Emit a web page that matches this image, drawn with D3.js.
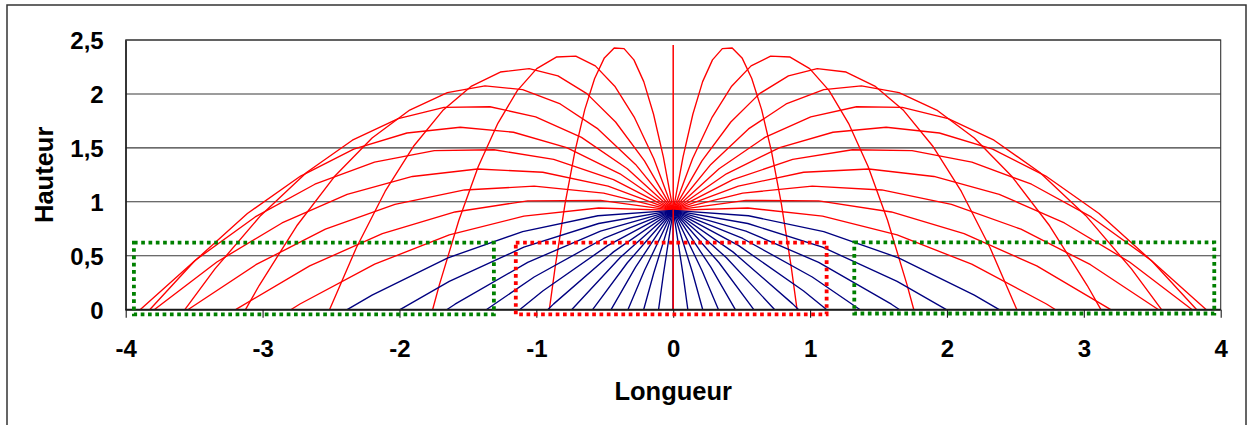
<!DOCTYPE html>
<html><head><meta charset="utf-8">
<script src="https://cdn.jsdelivr.net/npm/d3@7/dist/d3.min.js"></script>
<style>
html,body{margin:0;padding:0;background:#fff;}
svg{display:block;font-family:"Liberation Sans",Arial,sans-serif;font-weight:bold;}
</style>
</head><body>
<svg id="chart" width="1247" height="425"></svg>
<script>
// ---- data ----
const xTicks = [-4, -3, -2, -1, 0, 1, 2, 3, 4];
const yTicks = [0, 0.5, 1, 1.5, 2, 2.5];
const sides = [1, -1]; // both directions from the launch point

// upward launches (red)
const upAngles = [7.5, 15, 22.5, 30, 37.5, 45, 52.5, 60, 67.5, 75, 82.5];
const upX = [
  [0, 0.545, 1.091, 1.636, 2.181, 2.727, 2.794],
  [0, 0.531, 1.063, 1.594, 2.125, 2.656, 3.188, 3.198],
  [0, 0.508, 1.016, 1.524, 2.033, 2.541, 3.049, 3.546],
  [0, 0.476, 0.953, 1.429, 1.905, 2.382, 2.858, 3.334, 3.792],
  [0, 0.436, 0.873, 1.309, 1.745, 2.182, 2.618, 3.054, 3.491, 3.895],
  [0, 0.389, 0.778, 1.167, 1.556, 1.945, 2.334, 2.722, 3.111, 3.500, 3.825],
  [0, 0.335, 0.670, 1.005, 1.339, 1.674, 2.009, 2.344, 2.679, 3.013, 3.348, 3.568],
  [0, 0.275, 0.550, 0.825, 1.100, 1.375, 1.650, 1.925, 2.200, 2.475, 2.750, 3.025, 3.125],
  [0, 0.210, 0.421, 0.631, 0.842, 1.052, 1.263, 1.473, 1.684, 1.894, 2.105, 2.315, 2.511],
  [0, 0.142, 0.285, 0.427, 0.569, 0.712, 0.854, 0.997, 1.139, 1.281, 1.424, 1.566, 1.708, 1.758],
  [0, 0.072, 0.144, 0.215, 0.287, 0.359, 0.431, 0.503, 0.574, 0.646, 0.718, 0.790, 0.862, 0.905]
];
const upY = [
  [0.92, 0.943, 0.867, 0.694, 0.422, 0.053, 0],
  [0.92, 1.013, 1.009, 0.906, 0.705, 0.406, 0.008, 0],
  [0.92, 1.081, 1.145, 1.110, 0.977, 0.746, 0.417, 0],
  [0.92, 1.146, 1.274, 1.304, 1.235, 1.069, 0.804, 0.442, 0],
  [0.92, 1.206, 1.393, 1.483, 1.475, 1.368, 1.163, 0.860, 0.459, 0],
  [0.92, 1.260, 1.502, 1.645, 1.691, 1.638, 1.488, 1.239, 0.892, 0.447, 0],
  [0.92, 1.307, 1.597, 1.788, 1.881, 1.875, 1.772, 1.571, 1.272, 0.874, 0.378, 0],
  [0.92, 1.347, 1.676, 1.907, 2.040, 2.075, 2.012, 1.851, 1.591, 1.234, 0.778, 0.224, 0],
  [0.92, 1.379, 1.740, 2.003, 2.168, 2.234, 2.203, 2.073, 1.846, 1.520, 1.096, 0.574, 0],
  [0.92, 1.402, 1.786, 2.072, 2.260, 2.350, 2.342, 2.235, 2.031, 1.728, 1.328, 0.829, 0.232, 0],
  [0.92, 1.416, 1.814, 2.114, 2.316, 2.420, 2.426, 2.334, 2.143, 1.855, 1.468, 0.983, 0.400, 0]
];
// vertical launch (90°)
const verticalX = [0, 0];
const verticalY = [0, 2.454];

// horizontal and downward launches (blue)
const downAngles = [0, -7.5, -15, -22.5, -30, -37.5, -45, -52.5, -60, -67.5, -75, -82.5, -90];
const downX = [
  [0, 0.550, 1.100, 1.650, 2.200, 2.382],
  [0, 0.545, 1.091, 1.636, 1.996],
  [0, 0.531, 1.063, 1.594, 1.655],
  [0, 0.508, 1.016, 1.366],
  [0, 0.476, 0.953, 1.122],
  [0, 0.436, 0.873, 0.917],
  [0, 0.389, 0.742],
  [0, 0.335, 0.589],
  [0, 0.275, 0.454],
  [0, 0.210, 0.331],
  [0, 0.142, 0.216],
  [0, 0.072, 0.107],
  [0, 0]
];
const downY = [
  [0.92, 0.871, 0.724, 0.479, 0.135, 0],
  [0.92, 0.799, 0.580, 0.263, 0],
  [0.92, 0.729, 0.439, 0.051, 0],
  [0.92, 0.660, 0.303, 0],
  [0.92, 0.596, 0.174, 0],
  [0.92, 0.536, 0.054, 0],
  [0.92, 0.482, 0],
  [0.92, 0.435, 0],
  [0.92, 0.395, 0],
  [0.92, 0.363, 0],
  [0.92, 0.340, 0],
  [0.92, 0.326, 0],
  [0.92, 0]
];

// dotted zones
const zoneX0 = [-3.94, -1.15, 1.323];
const zoneX1 = [-1.31, 1.121, 3.953];
const zoneY0 = [-0.043, -0.043, -0.035];
const zoneY1 = [0.621, 0.621, 0.624];
const zoneColor = ["#008000", "#ff0000", "#008000"];

const xTitle = "Longueur";
const yTitle = "Hauteur";

// ---- drawing ----
const svg = d3.select("#chart");
const plot = {left: 125.7, right: 1220.7, top: 40, bottom: 309.7};
const x = d3.scaleLinear().domain([-4, 4]).range([plot.left, plot.right]);
const y = d3.scaleLinear().domain([0, 2.5]).range([plot.bottom, plot.top]);
const fmt = d => String(d).replace(".", ",");
const FONT = '"Liberation Sans", Arial, sans-serif';

// outer frame
svg.append("rect").attr("x", 7).attr("y", 5).attr("width", 1239).attr("height", 440)
  .attr("fill", "#fff").attr("stroke", "#333").attr("stroke-width", 1.5);

// grid lines
svg.append("g").selectAll("line").data(yTicks.filter(d => d > 0)).join("line")
  .attr("x1", plot.left).attr("x2", plot.right)
  .attr("y1", d => y(d)).attr("y2", d => y(d))
  .attr("stroke", "#3a3a3a").attr("stroke-width", 1.1);

// plot border
svg.append("rect").attr("x", plot.left).attr("y", plot.top)
  .attr("width", plot.right - plot.left).attr("height", plot.bottom - plot.top)
  .attr("fill", "none").attr("stroke", "#333").attr("stroke-width", 1.1);

const line = d3.line().x(d => x(d[0])).y(d => y(d[1]));
const curves = svg.append("g").attr("fill", "none").attr("stroke-linejoin", "round");

// red curves
sides.forEach(s => {
  curves.append("g").selectAll("path").data(upAngles).join("path")
    .attr("d", (a, i) => line(upX[i].map((v, j) => [v * s, upY[i][j]])))
    .attr("stroke", "#ff0000").attr("stroke-width", 1.35);
});
// blue curves
sides.forEach(s => {
  curves.append("g").selectAll("path").data(downAngles).join("path")
    .attr("d", (a, i) => line(downX[i].map((v, j) => [v * s, downY[i][j]])))
    .attr("stroke", "#000080").attr("stroke-width", 1.35);
});
// vertical launch
curves.append("path")
  .attr("d", line(verticalX.map((v, j) => [v, verticalY[j]])))
  .attr("stroke", "#ff0000").attr("stroke-width", 1.5);

// x axis
const xAxis = svg.append("g").attr("transform", `translate(0,${plot.bottom})`)
  .call(d3.axisBottom(x).tickValues(xTicks).tickSize(8).tickPadding(22).tickFormat(fmt));
xAxis.select(".domain").attr("stroke", "#1a1a1a").attr("stroke-width", 2).attr("d", `M${plot.left},0H${plot.right}`);
xAxis.selectAll(".tick line").attr("stroke", "#1a1a1a").attr("stroke-width", 1.1);
xAxis.selectAll("text").attr("font-size", 24).attr("font-weight", "bold").attr("fill", "#000")
  .attr("font-family", FONT);

// y axis
const yAxis = svg.append("g").attr("transform", `translate(${plot.left},0)`)
  .call(d3.axisLeft(y).tickValues(yTicks).tickSize(0).tickPadding(22).tickFormat(fmt));
yAxis.select(".domain").attr("stroke", "#1a1a1a").attr("stroke-width", 1.3);
yAxis.selectAll("text").attr("font-size", 24).attr("font-weight", "bold").attr("fill", "#000")
  .attr("font-family", FONT).attr("dy", "0.36em");

// dotted zones
svg.append("g").selectAll("rect").data(zoneColor).join("rect")
  .attr("x", (c, i) => x(zoneX0[i])).attr("y", (c, i) => y(zoneY1[i]))
  .attr("width", (c, i) => x(zoneX1[i]) - x(zoneX0[i]))
  .attr("height", (c, i) => y(zoneY0[i]) - y(zoneY1[i]))
  .attr("fill", "none").attr("stroke", c => c).attr("stroke-width", 3.8)
  .attr("stroke-dasharray", "3.7,3.6");

// titles
svg.append("text").attr("x", (plot.left + plot.right) / 2).attr("y", 399.5)
  .attr("text-anchor", "middle").attr("font-size", 25.5).text(xTitle);
svg.append("text").attr("transform", `translate(52.5,${(plot.top + plot.bottom) / 2}) rotate(-90)`)
  .attr("text-anchor", "middle").attr("font-size", 25.5).text(yTitle);
</script>
</body></html>
